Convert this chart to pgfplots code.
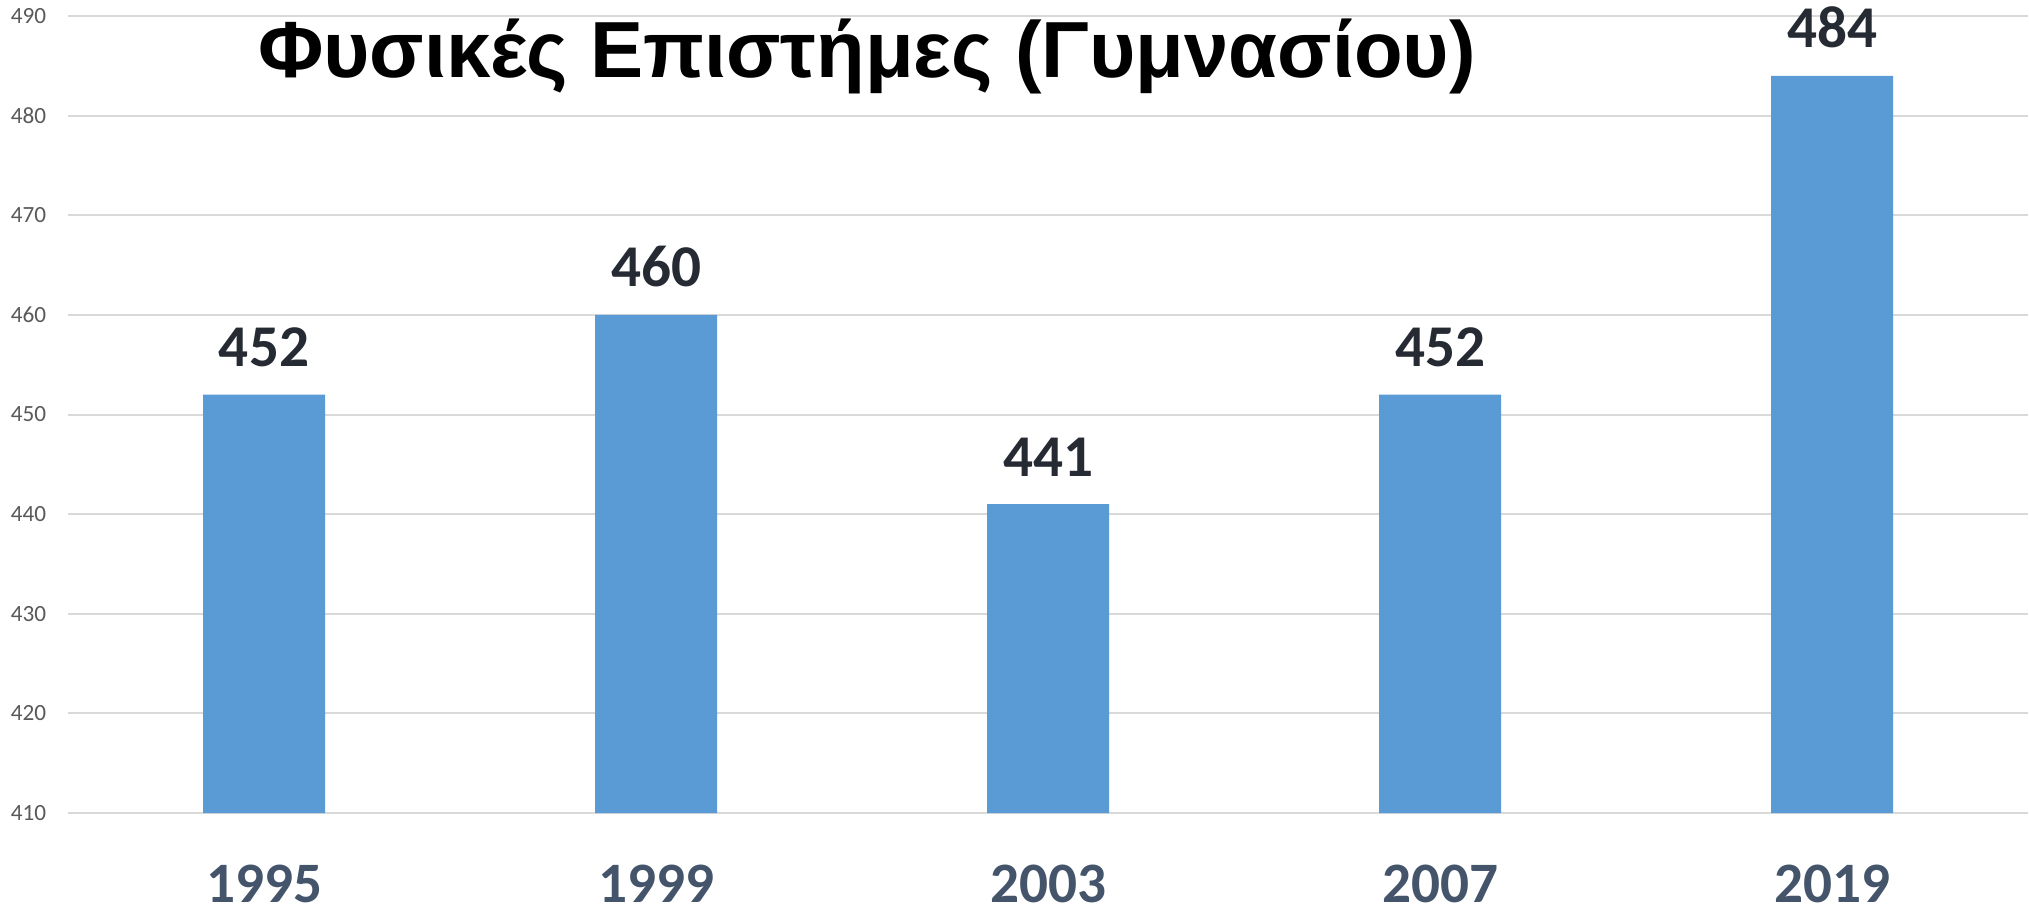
\documentclass[border=0pt]{standalone}
\usepackage{fontspec}
\setmainfont{Carlito}
\newfontfamily\titlefont{Liberation Sans}
\usepackage{pgfplots}
\pgfplotsset{compat=1.18}
\definecolor{barblue}{RGB}{91,155,213}
\definecolor{gridgray}{RGB}{217,217,217}
\definecolor{ticktxt}{RGB}{89,89,89}
\definecolor{lbltxt}{RGB}{38,42,51}
\definecolor{yeartxt}{RGB}{68,84,106}

\begin{document}
\begin{tikzpicture}
\begin{axis}[
  at={(0,0)}, anchor=south west,
  scale only axis,
  width=490pt, height=199.25pt,
  ybar, bar width=30.5pt,
  xmin=-0.5, xmax=4.5,
  ymin=410, ymax=490,
  xtick=data,
  xticklabels={1995,1999,2003,2007,2019},
  ytick={410,420,...,490},
  axis line style={draw=none},
  tick style={draw=none},
  ymajorgrids=true,
  grid style={gridgray, line width=0.5pt},
  /pgf/number format/assume math mode=true,
  yticklabel style={font=\fontsize{5.8pt}{7pt}\selectfont, text=ticktxt,
                    anchor=east, inner sep=0pt, xshift=-5.25pt},
  xticklabel style={font=\fontsize{14.3pt}{16pt}\selectfont\bfseries, text=yeartxt,
                    anchor=base, inner sep=0pt, yshift=-18pt},
  nodes near coords,
  every node near coord/.append style={font=\fontsize{14.8pt}{16pt}\selectfont\bfseries,
                    text=lbltxt, anchor=south, inner sep=0pt, yshift=6.75pt},
]
\addplot[fill=barblue, draw=none] coordinates {(0,452) (1,460) (2,441) (3,452) (4,484)};
\end{axis}
\node[font=\titlefont\fontsize{19.9pt}{23pt}\selectfont\bfseries, inner sep=0pt]
  at (199.75pt,189.25pt) {Φυσικές Επιστήμες (Γυμνασίου)};
\pgfresetboundingbox
\path (-17pt,-24.5pt) rectangle (490.25pt,203.25pt);
\end{tikzpicture}
\end{document}
